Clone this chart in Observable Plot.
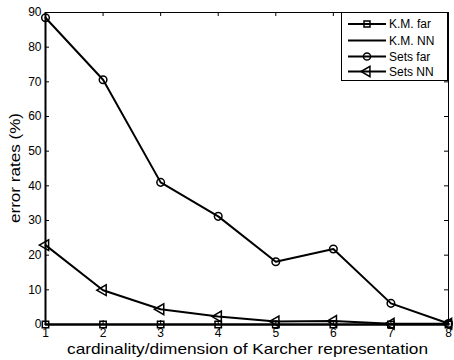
<!DOCTYPE html>
<html>
<head>
<meta charset="utf-8">
<script src="https://cdn.jsdelivr.net/npm/d3@7"></script>
<script src="https://cdn.jsdelivr.net/npm/@observablehq/plot@0.6"></script>
<style>
  html, body { margin: 0; padding: 0; background: #fff; }
  svg { font-family: "Liberation Sans", Arial, Helvetica, sans-serif; }
  svg g[aria-label="x-axis tick label"], svg g[aria-label="y-axis tick label"] { font-size: 12px; }
</style>
</head>
<body>
<div id="chart"></div>
<script>
const dims = [1, 2, 3, 4, 5, 6, 7, 8];
const kmFar = [0, 0, 0, 0, 0, 0, 0, 0];
const kmNN = [0, 0, 0, 0, 0, 0, 0, 0];
const setsFar = [88.5, 70.6, 41.0, 31.2, 18.1, 21.8, 6.1, 0.3];
const setsNN = [22.9, 9.9, 4.4, 2.3, 0.9, 1.0, 0.2, 0.2];
const seriesNames = ["K.M. far", "K.M. NN", "Sets far", "Sets NN"];
const xTicks = [1, 2, 3, 4, 5, 6, 7, 8];
const yTicks = [0, 10, 20, 30, 40, 50, 60, 70, 80, 90];
const xLabel = "cardinality/dimension of Karcher representation";
const yLabel = "error rates (%)";

const W = 454, H = 360;
const mL = 45, mR = 6, mT = 12, mB = 36;
const plotW = W - mL - mR, plotH = H - mT - mB;

const mk = (vals) => dims.map((d, i) => ({x: d, y: vals[i]}));
const dKmFar = mk(kmFar), dKmNN = mk(kmNN), dSetsFar = mk(setsFar), dSetsNN = mk(setsNN);

const lineOpt = {x: "x", y: "y", stroke: "black", strokeWidth: 2};
const dotOpt = {x: "x", y: "y", stroke: "black", strokeWidth: 1.5, fill: "none"};

const chart = Plot.plot({
  width: W, height: H,
  marginLeft: mL, marginRight: mR, marginTop: mT, marginBottom: mB,
  style: {background: "white", color: "black", fontSize: "12px", fontFamily: '"Liberation Sans", Arial, sans-serif'},
  x: {domain: [1, 8], ticks: xTicks, label: null},
  y: {domain: [0, 90], ticks: yTicks, label: null},
  marks: [
    Plot.frame({stroke: "black", strokeWidth: 1}),
    Plot.ruleX([dims[0]], {stroke: "black", strokeWidth: 2}),
    Plot.tickX(xTicks, {x: d => d, insetTop: plotH - 4, stroke: "black"}),
    Plot.tickX(xTicks, {x: d => d, insetBottom: plotH - 4, stroke: "black"}),
    Plot.tickY(yTicks, {y: d => d, insetRight: plotW - 4, stroke: "black"}),
    Plot.tickY(yTicks, {y: d => d, insetLeft: plotW - 4, stroke: "black"}),
    Plot.axisX({ticks: xTicks, tickSize: 0, tickPadding: 4, fontSize: 12, label: null, tickFormat: d => String(d)}),
    Plot.axisY({ticks: yTicks, tickSize: 0, tickPadding: 4, fontSize: 12, label: null, tickFormat: d => String(d)}),
    Plot.line(dKmFar, lineOpt),
    Plot.dot(dKmFar, {...dotOpt, symbol: "square", r: 3.6}),
    Plot.line(dKmNN, lineOpt),
    Plot.line(dSetsFar, lineOpt),
    Plot.dot(dSetsFar, {...dotOpt, symbol: "circle", r: 3.8}),
    Plot.line(dSetsNN, lineOpt),
    Plot.dot(dSetsNN, {...dotOpt, symbol: "triangle", r: 4, rotate: -90})
  ]
});

document.getElementById("chart").appendChild(chart);

const svg = d3.select(chart);
// axis labels
svg.append("text")
  .attr("x", mL + plotW / 2 + 1).attr("y", 354)
  .attr("text-anchor", "middle")
  .attr("font-size", 15)
  .attr("textLength", 361).attr("lengthAdjust", "spacingAndGlyphs")
  .attr("fill", "black")
  .text(xLabel);
svg.append("text")
  .attr("transform", `translate(20,${mT + plotH / 2}) rotate(-90)`)
  .attr("text-anchor", "middle")
  .attr("font-size", 15)
  .attr("textLength", 110).attr("lengthAdjust", "spacingAndGlyphs")
  .attr("fill", "black")
  .text(yLabel);

// legend
const lg = svg.append("g");
lg.append("rect").attr("x", 341.5).attr("y", 12.5).attr("width", 106).attr("height", 68)
  .attr("fill", "white").attr("stroke", "black").attr("stroke-width", 1);
const rowY = [24, 40.5, 56.5, 71.5];
const symbols = [d3.symbolSquare, null, d3.symbolCircle, d3.symbolTriangle];
const sizes = [36, 0, 40, 45];
seriesNames.forEach((name, i) => {
  const y = rowY[i];
  lg.append("line").attr("x1", 348).attr("x2", 386).attr("y1", y).attr("y2", y)
    .attr("stroke", "black").attr("stroke-width", 2);
  if (symbols[i]) {
    lg.append("path").attr("d", d3.symbol(symbols[i], sizes[i])())
      .attr("transform", `translate(367,${y})` + (i === 3 ? " rotate(-90)" : ""))
      .attr("fill", "none").attr("stroke", "black").attr("stroke-width", 1.5);
  }
  lg.append("text").attr("x", 389).attr("y", y + 4).attr("font-size", 12)
    .attr("text-anchor", "start")
    .attr("fill", "black").text(name);
});
</script>
</body>
</html>
